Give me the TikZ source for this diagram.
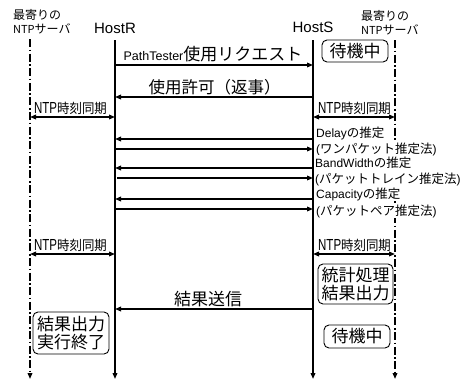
\documentclass[tikz,border=0pt]{standalone}
\usepackage{fontspec}
\setmainfont{Liberation Sans}
\newfontfamily\cjk{Noto Sans CJK JP}
\newfontfamily\cjkn{Noto Sans CJK JP}[FakeStretch=0.92]
\newfontfamily\latn{Liberation Sans}[FakeStretch=0.72]
\usetikzlibrary{arrows.meta}
\newcommand\fs[1]{\fontsize{#1}{#1}\selectfont}
\begin{document}
\begin{tikzpicture}[x=1pt,y=-1pt,
  tip/.tip={Triangle[length=6pt,width=4.6pt]},
  life/.style={line width=1.6pt,-tip},
  ntplife/.style={line width=1.6pt,-tip,dash pattern=on 8pt off 2.5pt on 1.6pt off 2.5pt},
  msg/.style={line width=1.4pt,-tip},
  sync/.style={line width=1.4pt,tip-tip},
  lbl/.style={inner sep=0pt,anchor=base},
  est/.style={inner sep=1pt,anchor=base west,fill=white},
  head/.style={inner sep=0pt,anchor=base west,font=\cjk\fs{12}},
  statebox/.style={draw,line width=0.9pt,rounded corners=5pt,align=center,inner sep=0pt,font=\cjk\fontsize{17}{18.5}\selectfont}
]
\useasboundingbox (0,0) rectangle (462,380);

% lifeline coordinates
\coordinate (nL) at (30,39);  \coordinate (nLb) at (30,379);
\coordinate (hR) at (115,40); \coordinate (hRb) at (115,379);
\coordinate (hS) at (313,40); \coordinate (hSb) at (313,379);
\coordinate (nR) at (395,40); \coordinate (nRb) at (395,379);

% headers
\node[head] (hl1) at (13,19.5) {最寄りの};
\node[head] (hl2) at (13,33) {\fs{11}NTP\cjk\fs{12}サーバ};
\node[head] (hr1) at (361,20.5) {最寄りの};
\node[head] (hr2) at (361,34.5) {\fs{11}NTP\cjk\fs{12}サーバ};
\node[lbl,font=\fs{15}] (tR) at (115,33) {HostR};
\node[lbl,font=\fs{15}] (tS) at (313,32.5) {HostS};

% NTP lifelines
\draw[ntplife] (nL) -- (nLb);
\draw[ntplife] (nR) -- (nRb);

% estimation labels
\node[est] (e1) at (315,137.5) {\fs{12}Delay\cjk\fs{12.5}の推定};
\node[est] (e2) at (315,153) {\fs{12}(\cjk\fs{12.5}ワンパケット推定法\rmfamily\fs{12})};
\node[est] (e3) at (314,167) {\fs{12}BandWidth\cjk\fs{12.5}の推定};
\node[est] (e4) at (314,183) {\fs{12}(\cjk\fs{12.5}パケットトレイン推定法\rmfamily\fs{12})};
\node[est] (e5) at (315,198) {\fs{12}Capacity\cjk\fs{12.5}の推定};
\node[est] (e6) at (315,215) {\fs{12}(\cjk\fs{12.5}パケットペア推定法\rmfamily\fs{12})};

% host lifelines
\draw[life] (hR) -- (hRb);
\draw[life] (hS) -- (hSb);

% state boxes
\node[statebox,minimum width=66pt,minimum height=22pt] (w1) at (355,51) {待機中};
\node[statebox,minimum width=75pt,minimum height=40pt] (st) at (355.5,284) {統計処理\\結果出力};
\node[statebox,minimum width=76pt,minimum height=42pt] (fin) at (71,333) {結果出力\\実行終了};
\node[statebox,minimum width=66pt,minimum height=23pt] (w2) at (357,336.5) {待機中};

% messages
\draw[msg] (hR |- 0,65) -- (hS |- 0,65);
\node[lbl] (m1) at (213,60.5) {\fs{12.5}PathTester\cjk\fs{17}使用リクエスト};
\draw[msg] (hS |- 0,97) -- (hR |- 0,97);
\node[lbl] (m2) at (214.5,93) {\cjk\fs{16.5}使用許可（返事）};

\draw[sync] (nL |- 0,117) -- (hR |- 0,117);
\node[lbl] (s1) at (70.5,113) {\latn\fs{16}NTP\cjkn\fs{13.5}時刻同期};
\draw[sync] (hS |- 0,117) -- (nR |- 0,117);
\node[lbl] (s2) at (354.5,113) {\latn\fs{16}NTP\cjkn\fs{13.5}時刻同期};

\draw[msg] (hS |- 0,139) -- (hR |- 0,139);
\draw[msg] (hR |- 0,149) -- (hS |- 0,149);
\draw[msg] (hS |- 0,168) -- (hR |- 0,168);
\draw[msg] ([xshift=2pt]hR |- 0,178) -- (hS |- 0,178);
\draw[msg] (hS |- 0,199) -- (hR |- 0,199);
\draw[msg] (hR |- 0,209) -- (hS |- 0,209);

\draw[sync] (nL |- 0,254) -- (hR |- 0,254);
\node[lbl] (s3) at (70.5,250) {\latn\fs{16}NTP\cjkn\fs{13.5}時刻同期};
\draw[sync] (hS |- 0,254) -- (nR |- 0,254);
\node[lbl] (s4) at (354.5,250) {\latn\fs{16}NTP\cjkn\fs{13.5}時刻同期};

\draw[msg] (hS |- 0,309) -- (hR |- 0,309);
\node[lbl] (m3) at (208,305) {\cjk\fs{17}結果送信};
\end{tikzpicture}
\end{document}
